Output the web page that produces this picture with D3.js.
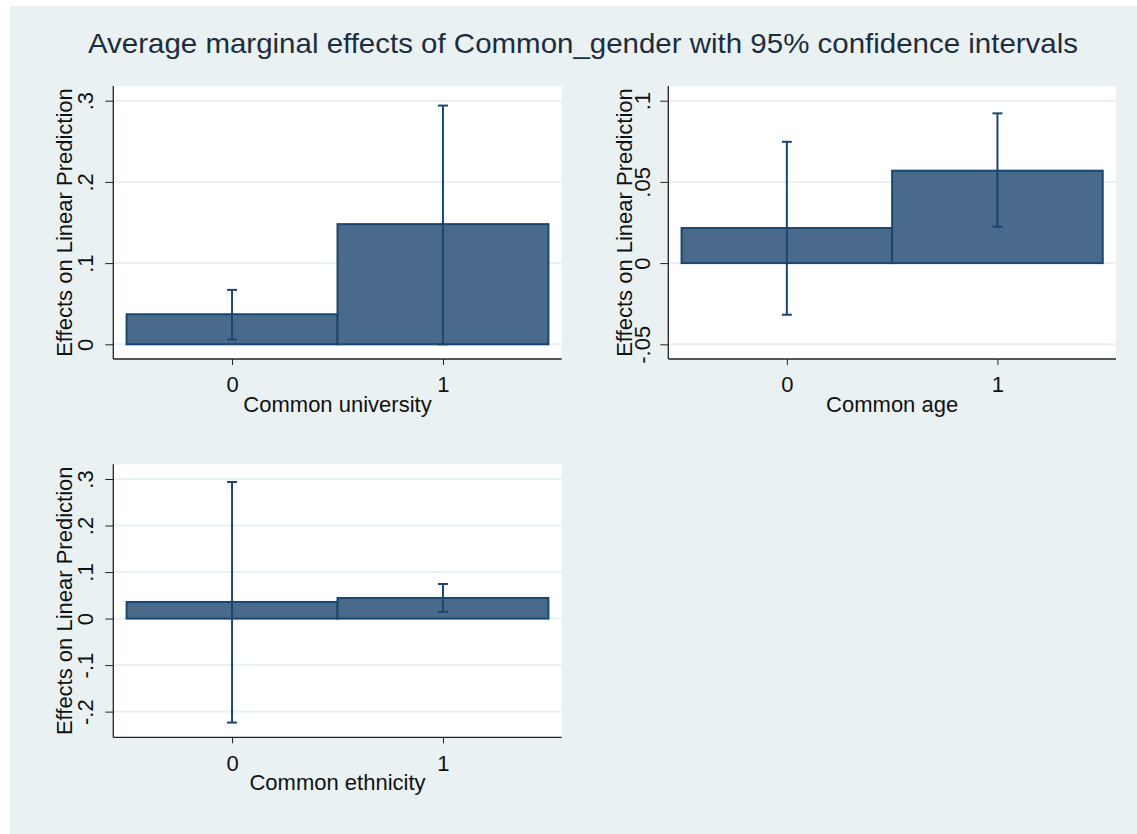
<!DOCTYPE html>
<html>
<head>
<meta charset="utf-8">
<script src="https://cdn.jsdelivr.net/npm/d3@7"></script>
<style>
  body { margin: 0; background: #fff; }
  svg { display: block; font-family: Arial, "Liberation Sans", sans-serif; }
</style>
</head>
<body>
<svg width="1137" height="834"></svg>
<script>
// data
var categories = [0, 1];

var universityEffect = [0.037, 0.148],
    universityLow = [0.006, 0.000],
    universityHigh = [0.067, 0.294];

var ageEffect = [0.0216, 0.0569],
    ageLow = [-0.0318, 0.0224],
    ageHigh = [0.0747, 0.0922];

var ethnicityEffect = [0.0357, 0.0443],
    ethnicityLow = [-0.2236, 0.0143],
    ethnicityHigh = [0.2936, 0.0743];

var universityTicks = [0, 0.1, 0.2, 0.3],
    universityTickLabels = ["0", ".1", ".2", ".3"];
var ageTicks = [-0.05, 0, 0.05, 0.1],
    ageTickLabels = ["-.05", "0", ".05", ".1"];
var ethnicityTicks = [-0.2, -0.1, 0, 0.1, 0.2, 0.3],
    ethnicityTickLabels = ["-.2", "-.1", "0", ".1", ".2", ".3"];

var xTitles = ["Common university", "Common age", "Common ethnicity"];
var yTitle = "Effects on Linear Prediction";
var chartTitle = "Average marginal effects of Common_gender with 95% confidence intervals";

var svg = d3.select("svg");

//graph region background
svg.append("rect")
    .attr("x", 10).attr("y", 6)
    .attr("width", 1127).attr("height", 828)
    .attr("fill", "#e9f1f3");

svg.append("text")
    .attr("x", 583)
    .attr("y", 53)
    .attr("text-anchor", "middle")
    .attr("fill", "#1e2d3d")
    .attr("textLength", 990)
    .attr("lengthAdjust", "spacingAndGlyphs")
    .style("font-size", "28px")
    .text(chartTitle);

// panel layout (plot region boxes)
var panels = [
  {x0: 113.3, x1: 561.7, y0: 86, y1: 359, labelGap: 20, titleGap: 41.5,
   effect: universityEffect, low: universityLow, high: universityHigh,
   ticks: universityTicks, tickLabels: universityTickLabels, xTitle: xTitles[0]},
  {x0: 668.3, x1: 1116, y0: 86, y1: 359, labelGap: 18.5, titleGap: 36.5,
   effect: ageEffect, low: ageLow, high: ageHigh,
   ticks: ageTicks, tickLabels: ageTickLabels, xTitle: xTitles[1]},
  {x0: 113.3, x1: 561.7, y0: 464.3, y1: 737.3, labelGap: 20, titleGap: 41.5,
   effect: ethnicityEffect, low: ethnicityLow, high: ethnicityHigh,
   ticks: ethnicityTicks, tickLabels: ethnicityTickLabels, xTitle: xTitles[2]}
];

var pad = 14.7;

panels.forEach(function(p) {
  var lo = d3.min(p.ticks.concat(p.low)),
      hi = d3.max(p.ticks.concat(p.high));

  var x = d3.scaleLinear().domain([-0.563, 1.563]).range([p.x0, p.x1]),
      y = d3.scaleLinear().domain([lo, hi]).range([p.y1 - pad, p.y0 + pad]);

  var g = svg.append("g");

  // plot region
  g.append("rect")
      .attr("x", p.x0).attr("y", p.y0)
      .attr("width", p.x1 - p.x0).attr("height", p.y1 - p.y0)
      .attr("fill", "#fff");

  // gridlines
  g.selectAll(".grid")
      .data(p.ticks)
      .enter().append("line")
      .attr("x1", p.x0).attr("x2", p.x1)
      .attr("y1", function(d) { return y(d); })
      .attr("y2", function(d) { return y(d); })
      .attr("stroke", "#e9f1f3")
      .attr("stroke-width", 2);

  // bars
  g.selectAll(".bar")
      .data(categories)
      .enter().append("rect")
      .attr("x", function(c) { return x(c - 0.5); })
      .attr("width", function(c) { return x(c + 0.5) - x(c - 0.5); })
      .attr("y", function(c, i) { return Math.min(y(p.effect[i]), y(0)); })
      .attr("height", function(c, i) { return Math.abs(y(0) - y(p.effect[i])); })
      .attr("fill", "#496a8a")
      .attr("stroke", "#1a476f")
      .attr("stroke-width", 2);

  // confidence intervals
  var ci = g.selectAll(".ci")
      .data(categories)
      .enter().append("g")
      .attr("stroke", "#1a476f")
      .attr("stroke-width", 2);
  ci.append("line")
      .attr("x1", function(c) { return x(c); })
      .attr("x2", function(c) { return x(c); })
      .attr("y1", function(c, i) { return y(p.low[i]); })
      .attr("y2", function(c, i) { return y(p.high[i]); });
  ci.append("line")
      .attr("x1", function(c) { return x(c) - 5; })
      .attr("x2", function(c) { return x(c) + 5; })
      .attr("y1", function(c, i) { return y(p.low[i]); })
      .attr("y2", function(c, i) { return y(p.low[i]); });
  ci.append("line")
      .attr("x1", function(c) { return x(c) - 5; })
      .attr("x2", function(c) { return x(c) + 5; })
      .attr("y1", function(c, i) { return y(p.high[i]); })
      .attr("y2", function(c, i) { return y(p.high[i]); });

  // y axis
  var yAxis = g.append("g")
      .attr("transform", "translate(" + p.x0 + ",0)")
      .call(d3.axisLeft(y)
          .tickValues(p.ticks)
          .tickFormat(function(d, i) { return p.tickLabels[i]; })
          .tickSize(8)
          .tickSizeOuter(0));
  yAxis.select(".domain").remove();
  yAxis.selectAll(".tick line").attr("stroke", "#222");
  yAxis.selectAll(".tick text")
      .attr("transform", "rotate(-90)")
      .attr("x", 0)
      .attr("y", -p.labelGap)
      .attr("dy", 0)
      .attr("text-anchor", "middle")
      .attr("fill", "#111")
      .style("font-size", "22px")
      .style("font-family", "Arial, 'Liberation Sans', sans-serif");

  // x axis
  var xAxis = g.append("g")
      .attr("transform", "translate(0," + p.y1 + ")")
      .call(d3.axisBottom(x)
          .tickValues(categories)
          .tickFormat(d3.format("d"))
          .tickSize(6)
          .tickSizeOuter(0));
  xAxis.select(".domain").remove();
  xAxis.selectAll(".tick line").attr("stroke", "#222");
  xAxis.selectAll(".tick text")
      .attr("y", 33.3)
      .attr("dy", 0)
      .attr("fill", "#111")
      .style("font-size", "22px")
      .style("font-family", "Arial, 'Liberation Sans', sans-serif");

  // axis lines
  g.append("line")
      .attr("x1", p.x0).attr("x2", p.x0)
      .attr("y1", p.y0).attr("y2", p.y1)
      .attr("stroke", "#222").attr("stroke-width", 1.3);
  g.append("line")
      .attr("x1", p.x0).attr("x2", p.x1)
      .attr("y1", p.y1).attr("y2", p.y1)
      .attr("stroke", "#222").attr("stroke-width", 1.3);

  // axis titles
  g.append("text")
      .attr("x", (p.x0 + p.x1) / 2)
      .attr("y", p.y1 + 52.5)
      .attr("text-anchor", "middle")
      .attr("fill", "#111")
      .style("font-size", "22px")
      .text(p.xTitle);

  g.append("text")
      .attr("transform", "translate(" + (p.x0 - p.titleGap) + "," + ((p.y0 + p.y1) / 2) + ") rotate(-90)")
      .attr("text-anchor", "middle")
      .attr("fill", "#111")
      .style("font-size", "22px")
      .text(yTitle);
});
</script>
</body>
</html>
